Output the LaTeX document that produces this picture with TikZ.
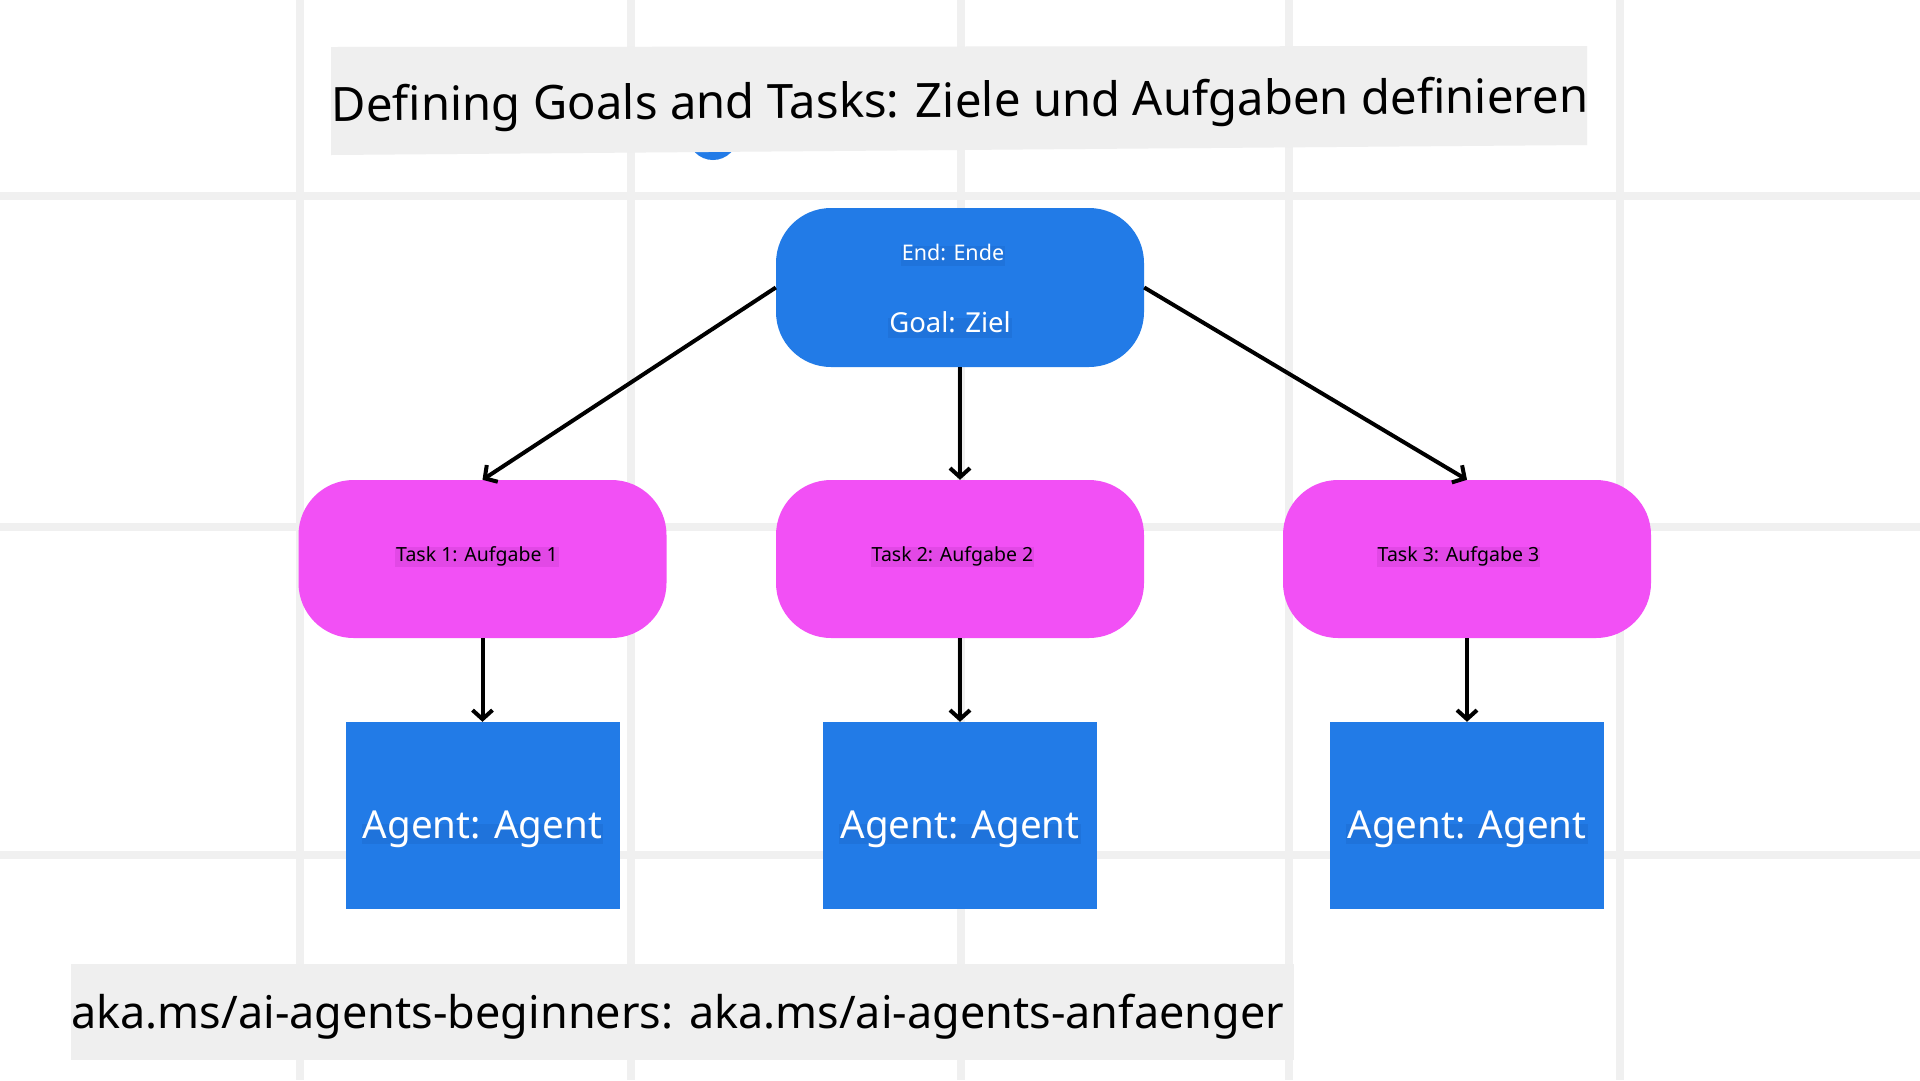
\documentclass[tikz,border=0pt]{standalone}
\usepackage{fontspec}
\setmainfont{Noto Sans}
\usetikzlibrary{arrows.meta}

\definecolor{goalblue}{RGB}{34,123,231}
\definecolor{labblue}{RGB}{31,115,219}
\definecolor{taskpink}{RGB}{242,80,245}
\definecolor{labpink}{RGB}{226,72,230}
\definecolor{gridgray}{RGB}{240,240,240}
\definecolor{boxgray}{RGB}{239,239,239}

\tikzset{
    goalbox/.style={fill=goalblue,rounded corners=55pt,minimum width=368pt,minimum height=159pt,inner sep=0pt},
    taskbox/.style={fill=taskpink,rounded corners=55pt,minimum width=368pt,minimum height=158pt,inner sep=0pt},
    agentbox/.style={fill=goalblue,minimum width=274pt,minimum height=187pt,inner sep=0pt},
    lab/.style={anchor=base,inner xsep=1pt,inner ysep=0pt,text height=1.4em,text depth=0.55em},
    bluelab/.style={lab,fill=labblue,text=white},
    pinklab/.style={lab,fill=labpink,text=black,font=\fontsize{19.5}{24}\selectfont},
    link/.style={line width=4pt,-{Straight Barb[length=9pt,width=20pt]}}
}

\begin{document}
\begin{tikzpicture}[x=1pt,y=-1pt]
        \useasboundingbox (0,0) rectangle (1920,1080);
        \fill[white] (0,0) rectangle (1920,1080);
        \foreach \x in {300,631,961,1289,1620}{
            \draw[gridgray,line width=8pt] (\x,0) -- (\x,1080);
        }
        \foreach \y in {196,527,855}{
            \draw[gridgray,line width=8pt] (0,\y) -- (1920,\y);
        }

        % title and link
        \fill[goalblue] (713,135) circle (25pt);
        \fill[boxgray] (331,47) -- (1587,46) -- (1587,145) -- (331,155) -- cycle;
        \node[anchor=base,inner sep=0pt,rotate=0.4,font=\fontsize{47.3}{56}\selectfont] (title) at (960,117) {Defining Goals and Tasks: Ziele und Aufgaben definieren};
        \fill[boxgray] (71,964) rectangle (1294,1060);
        \node[anchor=base west,inner sep=0pt,font=\fontsize{45}{54}\selectfont] (link) at (71,1028) {aka.ms/ai-agents-beginners: aka.ms/ai-agents-anfaenger};

        \node[goalbox] (goal) at (960,287.5) {};
        \node[bluelab,font=\fontsize{21.5}{26}\selectfont] (endlab) at (953,260) {End: Ende};
        \node[bluelab,font=\fontsize{27.5}{33}\selectfont] (goallab) at (950,332) {Goal: Ziel};

        \foreach \n/\x/\lx in {1/482.5/477,2/960/952.5,3/1467/1458.5}{
            \node[taskbox] (task\n) at (\x,559) {};
            \node[pinklab] (tasklab\n) at (\lx,561) {Task \n: Aufgabe \n};
            \node[agentbox] (agent\n) at (\x,815.5) {};
            \node[bluelab,font=\fontsize{38.5}{46}\selectfont] (agentlab\n) at (\x,838) {Agent: Agent};
            \draw[link] (task\n) -- (agent\n);
        }

        \draw[link] (goal.west) -- (task1.north);
        \draw[link] (goal) -- (task2);
        \draw[link] (goal.east) -- (task3.north);
    \end{tikzpicture}
\end{document}
